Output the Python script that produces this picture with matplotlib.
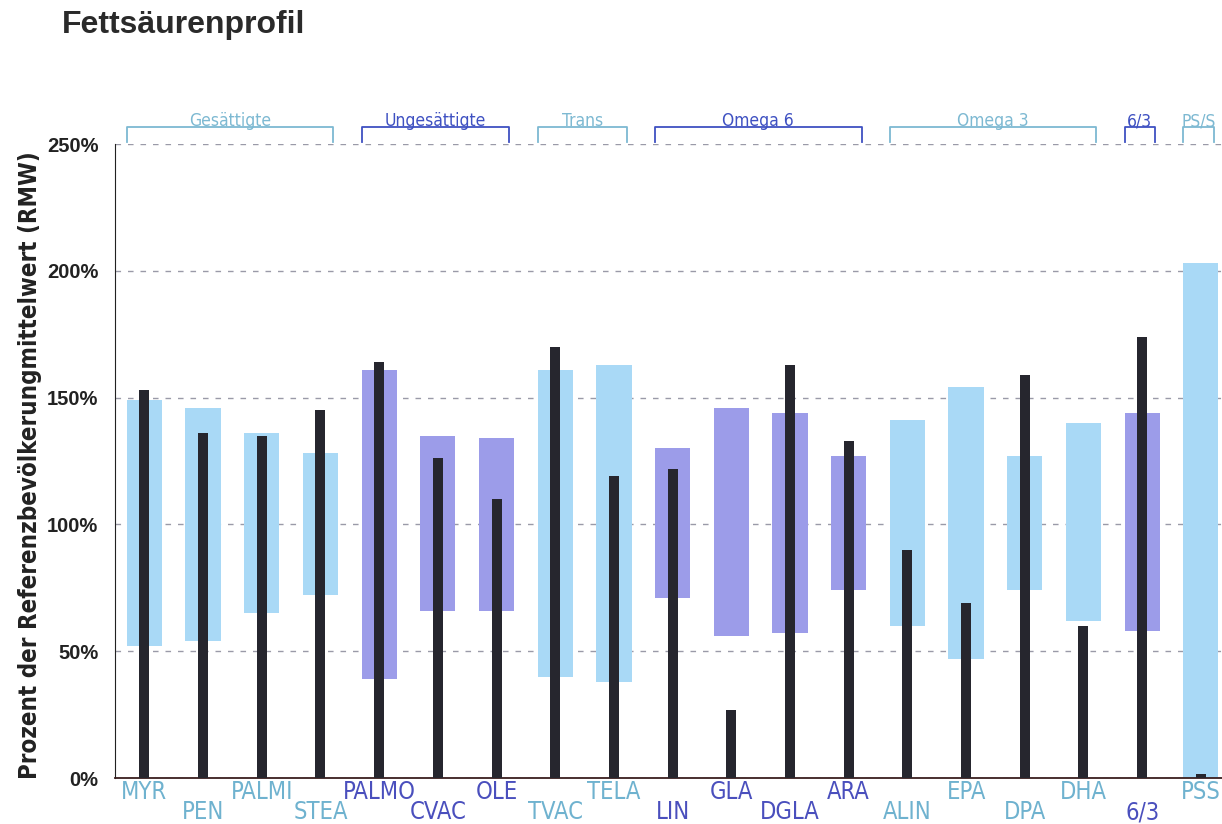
import matplotlib.pyplot as plt

# data (percent of reference population mean)
categories = ["MYR", "PEN", "PALMI", "STEA", "PALMO", "CVAC", "OLE", "TVAC", "TELA", "LIN",
              "GLA", "DGLA", "ARA", "ALIN", "EPA", "DPA", "DHA", "6/3", "PSS"]
range_low = [52, 54, 65, 72, 39, 66, 66, 40, 38, 71, 56, 57, 74, 60, 47, 74, 62, 58, 0]
range_high = [149, 146, 136, 128, 161, 135, 134, 161, 163, 130, 146, 144, 127, 141, 154, 127, 140, 144, 203]
measured = [153, 136, 135, 145, 164, 126, 110, 170, 119, 122, 27, 163, 133, 90, 69, 159, 60, 174, 1.5]
kind = ["light", "light", "light", "light", "dark", "dark", "dark", "light", "light", "dark",
        "dark", "dark", "dark", "light", "light", "light", "light", "dark", "light"]

groups = ["Gesättigte", "Ungesättigte", "Trans", "Omega 6", "Omega 3", "6/3", "PS/S"]
group_start = [0, 4, 7, 9, 13, 17, 18]
group_end = [3, 6, 8, 12, 16, 17, 18]
group_kind = ["light", "dark", "light", "dark", "light", "dark", "light"]

bar_color = {"light": "#a9d9f6", "dark": "#9c9ce9"}
text_color = {"light": "#6fb2cf", "dark": "#4a4fbd"}

fig = plt.figure(figsize=(12.22, 8.24), dpi=100)
ax = fig.add_axes([0.0941, 0.0558, 0.9059, 0.7694])

x = list(range(len(categories)))
heights = [h - l for h, l in zip(range_high, range_low)]
ax.bar(x, heights, bottom=range_low, width=0.6, color=[bar_color[k] for k in kind], zorder=2)
ax.bar(x, measured, width=0.17, color="#26262e", zorder=3)

ax.set_xlim(-0.5, 18.36)
ax.set_ylim(0, 250)
ax.set_yticks([0, 50, 100, 150, 200, 250])
ax.set_yticklabels(["0%", "50%", "100%", "150%", "200%", "250%"])
ax.yaxis.grid(True, linestyle=(0, (4, 5)), color="#9a9aa8", linewidth=1.0, zorder=1)
ax.set_xticks([])
ax.tick_params(axis="y", length=0, pad=12, labelsize=14.5, labelcolor="#222222")
for lab in ax.get_yticklabels():
    lab.set_fontweight("bold")
    lab.set_family("Liberation Sans")

ax.spines["top"].set_visible(False)
ax.spines["right"].set_visible(False)
ax.spines["left"].set_color("#222222")
ax.spines["bottom"].set_color("#3a1f1f")
ax.spines["bottom"].set_linewidth(1.3)

tr = ax.get_xaxis_transform()
for i, name in enumerate(categories):
    ypos = -0.022 if i % 2 == 0 else -0.054
    ax.text(i, ypos, name, transform=tr, ha="center", va="center", fontsize=17,
            color=text_color[kind[i]], family="DejaVu Sans", fontstretch="condensed",
            clip_on=False)

# group brackets above the plot
for g, s, e, k in zip(groups, group_start, group_end, group_kind):
    x0, x1 = s - 0.3, e + 0.22
    c = "#7db9d2" if k == "light" else "#3f51c2"
    ax.plot([x0, x0, x1, x1], [1.003, 1.027, 1.027, 1.003], transform=tr, color=c,
            linewidth=1.3, clip_on=False)
    ax.text((x0 + x1) / 2, 1.022, g, transform=tr, ha="center", va="bottom", fontsize=12.5,
            color=c, family="DejaVu Sans", fontstretch="condensed", clip_on=False)

fig.text(0.0242, 0.436, "Prozent der Referenzbevölkerungmittelwert (RMW)", rotation=90,
         ha="center", va="center", fontsize=17.3, fontweight="bold", family="DejaVu Sans",
         fontstretch="condensed", color="#222222")
fig.text(0.051, 0.97, "Fettsäurenprofil", ha="left", va="center", fontsize=23,
         fontweight="bold", family="Liberation Sans", color="#2a2a2a")

fig.savefig("out.png", dpi=100)
